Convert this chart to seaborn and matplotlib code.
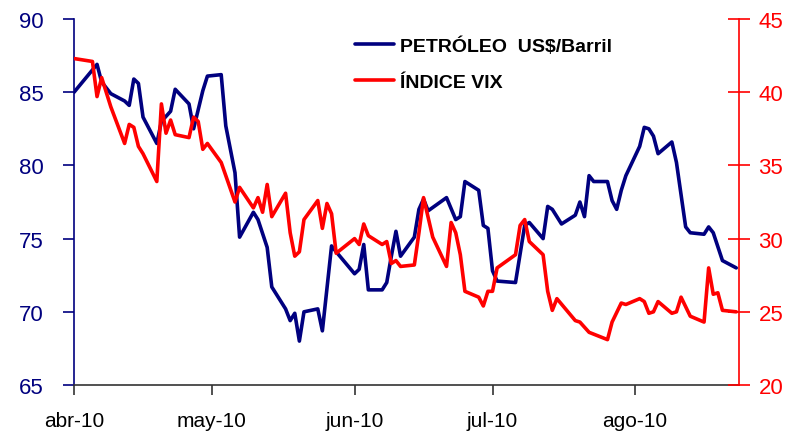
import pandas as pd
import numpy as np
import matplotlib
matplotlib.use("Agg")
import matplotlib.pyplot as plt
import seaborn as sns

sns.set_style("white")
plt.rcParams['font.family'] = ['Liberation Sans', 'DejaVu Sans']

# Oil price (US$/barrel), left axis
oil_dates = ["2010-04-01", "2010-04-06", "2010-04-07", "2010-04-09", "2010-04-12", "2010-04-13",
             "2010-04-14", "2010-04-15", "2010-04-16", "2010-04-19", "2010-04-20", "2010-04-22",
             "2010-04-23", "2010-04-26", "2010-04-27", "2010-04-29", "2010-04-30", "2010-05-03",
             "2010-05-04", "2010-05-06", "2010-05-07", "2010-05-10", "2010-05-11", "2010-05-13",
             "2010-05-14", "2010-05-17", "2010-05-18", "2010-05-19", "2010-05-20", "2010-05-21",
             "2010-05-24", "2010-05-25", "2010-05-27", "2010-05-28", "2010-06-01", "2010-06-02",
             "2010-06-03", "2010-06-04", "2010-06-07", "2010-06-08", "2010-06-09", "2010-06-10",
             "2010-06-11", "2010-06-14", "2010-06-15", "2010-06-16", "2010-06-17", "2010-06-21",
             "2010-06-23", "2010-06-24", "2010-06-25", "2010-06-28", "2010-06-29", "2010-06-30",
             "2010-07-01", "2010-07-02", "2010-07-06", "2010-07-08", "2010-07-09", "2010-07-12",
             "2010-07-13", "2010-07-14", "2010-07-16", "2010-07-19", "2010-07-20", "2010-07-21",
             "2010-07-22", "2010-07-23", "2010-07-26", "2010-07-27", "2010-07-28", "2010-07-29",
             "2010-07-30", "2010-08-02", "2010-08-03", "2010-08-04", "2010-08-05", "2010-08-06",
             "2010-08-09", "2010-08-10", "2010-08-12", "2010-08-13", "2010-08-16", "2010-08-17",
             "2010-08-18", "2010-08-20", "2010-08-23"]
oil_values = [85.0, 86.9, 85.7, 84.9, 84.4, 84.1,
              85.9, 85.6, 83.3, 81.5, 83.0, 83.7,
              85.2, 84.2, 82.5, 85.1, 86.1, 86.2,
              82.7, 79.5, 75.1, 76.8, 76.3, 74.4,
              71.7, 70.2, 69.4, 69.9, 68.0, 70.0,
              70.2, 68.7, 74.5, 74.1, 72.6, 72.9,
              74.6, 71.5, 71.5, 72.0, 73.8, 75.5,
              73.8, 75.1, 77.0, 77.7, 76.9, 77.8,
              76.3, 76.5, 78.9, 78.3, 75.9, 75.7,
              72.8, 72.1, 72.0, 75.9, 76.1, 75.0,
              77.2, 77.0, 76.0, 76.6, 77.5, 76.5,
              79.3, 78.9, 78.9, 77.6, 77.0, 78.3,
              79.3, 81.3, 82.6, 82.5, 82.0, 80.8,
              81.6, 80.2, 75.8, 75.4, 75.3, 75.8,
              75.4, 73.5, 73.0]

# VIX index, right axis
vix_dates = ["2010-04-01", "2010-04-05", "2010-04-06", "2010-04-07", "2010-04-09", "2010-04-12",
             "2010-04-13", "2010-04-14", "2010-04-15", "2010-04-16", "2010-04-19", "2010-04-20",
             "2010-04-21", "2010-04-22", "2010-04-23", "2010-04-26", "2010-04-27", "2010-04-28",
             "2010-04-29", "2010-04-30", "2010-05-03", "2010-05-06", "2010-05-07", "2010-05-10",
             "2010-05-11", "2010-05-12", "2010-05-13", "2010-05-14", "2010-05-17", "2010-05-18",
             "2010-05-19", "2010-05-20", "2010-05-21", "2010-05-24", "2010-05-25", "2010-05-26",
             "2010-05-27", "2010-05-28", "2010-06-01", "2010-06-02", "2010-06-03", "2010-06-04",
             "2010-06-07", "2010-06-08", "2010-06-09", "2010-06-10", "2010-06-11", "2010-06-14",
             "2010-06-15", "2010-06-16", "2010-06-18", "2010-06-21", "2010-06-22", "2010-06-23",
             "2010-06-24", "2010-06-25", "2010-06-28", "2010-06-29", "2010-06-30", "2010-07-01",
             "2010-07-02", "2010-07-06", "2010-07-07", "2010-07-08", "2010-07-09", "2010-07-12",
             "2010-07-13", "2010-07-14", "2010-07-15", "2010-07-19", "2010-07-20", "2010-07-22",
             "2010-07-26", "2010-07-27", "2010-07-29", "2010-07-30", "2010-08-02", "2010-08-03",
             "2010-08-04", "2010-08-05", "2010-08-06", "2010-08-09", "2010-08-10", "2010-08-11",
             "2010-08-13", "2010-08-16", "2010-08-17", "2010-08-18", "2010-08-19", "2010-08-20",
             "2010-08-23"]
vix_values = [42.3, 42.1, 39.7, 41.0, 39.0, 36.5,
              37.8, 37.6, 36.3, 35.8, 33.9, 39.2,
              37.2, 38.1, 37.1, 36.9, 38.3, 38.0,
              36.1, 36.5, 35.2, 32.5, 33.5, 32.1,
              32.8, 31.8, 33.7, 31.5, 33.1, 30.4,
              28.8, 29.1, 31.3, 32.6, 30.7, 32.4,
              31.7, 29.0, 30.0, 29.6, 31.0, 30.2,
              29.6, 29.8, 28.3, 28.5, 28.1, 28.2,
              30.4, 32.8, 30.1, 28.1, 31.1, 30.4,
              28.9, 26.4, 26.0, 25.4, 26.4, 26.4,
              28.0, 28.9, 30.9, 31.3, 29.8, 28.9,
              26.4, 25.1, 25.9, 24.4, 24.3, 23.6,
              23.1, 24.3, 25.6, 25.5, 25.9, 25.7,
              24.9, 25.0, 25.7, 24.9, 25.0, 26.0,
              24.7, 24.3, 28.0, 26.2, 26.3, 25.1,
              25.0]

month_ticks = ["2010-04-01", "2010-05-01", "2010-06-01", "2010-07-01", "2010-08-01"]
month_labels = ["abr-10", "may-10", "jun-10", "jul-10", "ago-10"]

oil_df = pd.DataFrame({"fecha": pd.to_datetime(oil_dates), "valor": oil_values})
vix_df = pd.DataFrame({"fecha": pd.to_datetime(vix_dates), "valor": vix_values})

NAVY = "#00007F"
RED = "#FF0000"

fig = plt.figure(figsize=(8.03, 4.35), dpi=100)
ax = fig.add_axes([0.0922, 0.1126, 0.8281, 0.8414])
ax2 = ax.twinx()

sns.lineplot(data=oil_df, x="fecha", y="valor", ax=ax, color=NAVY, linewidth=2.6,
             label="PETRÓLEO  US$/Barril")
sns.lineplot(data=vix_df, x="fecha", y="valor", ax=ax2, color=RED, linewidth=2.6,
             label="ÍNDICE VIX")
for a in (ax, ax2):
    if a.get_legend() is not None:
        a.get_legend().remove()
    a.set_xlabel("")
    a.set_ylabel("")
    a.grid(False)

ax.set_xlim(pd.Timestamp("2010-04-01"), pd.Timestamp("2010-04-01") + pd.Timedelta(days=144.6))
ax.set_ylim(65, 90)
ax2.set_ylim(20, 45)
ax.set_yticks([65, 70, 75, 80, 85, 90])
ax2.set_yticks([20, 25, 30, 35, 40, 45])
ax.set_xticks(pd.to_datetime(month_ticks))
ax.set_xticklabels(month_labels)

# spines
for a in (ax, ax2):
    a.spines["top"].set_visible(False)
ax.spines["right"].set_visible(False)
ax2.spines["left"].set_visible(False)
ax2.spines["bottom"].set_visible(False)
ax.spines["left"].set_color(NAVY)
ax.spines["left"].set_linewidth(1.2)
ax.spines["bottom"].set_color("#333333")
ax.spines["bottom"].set_linewidth(1.2)
ax2.spines["right"].set_color(RED)
ax2.spines["right"].set_linewidth(1.2)

ax.tick_params(axis="y", colors=NAVY, labelsize=16, length=8, width=1.2, direction="out",
               pad=14, left=True)
ax.tick_params(axis="x", colors="#333333", labelcolor="black", labelsize=15, length=7,
               width=1.2, direction="out", pad=12, bottom=True)
ax2.tick_params(axis="y", colors=RED, labelsize=16, length=16, width=1.2, direction="inout",
                pad=6, right=True)

h1, l1 = ax.get_legend_handles_labels()
h2, l2 = ax2.get_legend_handles_labels()
leg = ax2.legend(h1 + h2, l1 + l2, loc="upper left", bbox_to_anchor=(0.396, 1.0),
                 frameon=False, prop={"weight": "bold", "size": 14},
                 handlelength=2.0, handletextpad=0.3, labelspacing=0.95)
for t in leg.get_texts():
    t.set_color("black")

fig.savefig("out.png", dpi=100, facecolor="white")
